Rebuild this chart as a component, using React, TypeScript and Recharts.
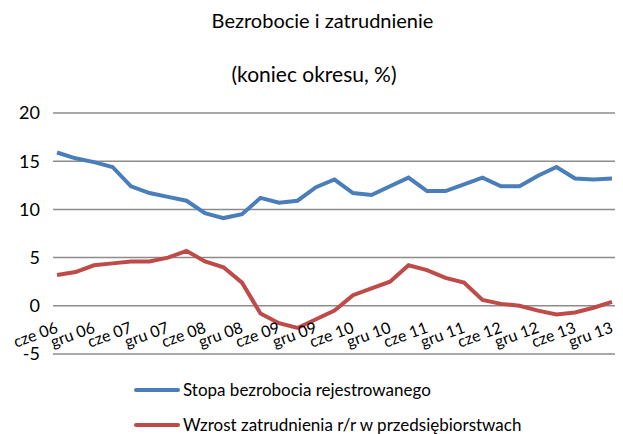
import { LineChart, Line, XAxis, YAxis, CartesianGrid, Legend } from 'recharts';

const quarters = [
  'cze 06', 'wrz 06', 'gru 06', 'mar 07', 'cze 07', 'wrz 07', 'gru 07', 'mar 08',
  'cze 08', 'wrz 08', 'gru 08', 'mar 09', 'cze 09', 'wrz 09', 'gru 09', 'mar 10',
  'cze 10', 'wrz 10', 'gru 10', 'mar 11', 'cze 11', 'wrz 11', 'gru 11', 'mar 12',
  'cze 12', 'wrz 12', 'gru 12', 'mar 13', 'cze 13', 'wrz 13', 'gru 13',
];

const unemployment = [
  15.9, 15.3, 14.9, 14.4, 12.4, 11.7, 11.3, 10.9, 9.6, 9.1, 9.5, 11.2, 10.7, 10.9, 12.3, 13.1,
  11.7, 11.5, 12.4, 13.3, 11.9, 11.9, 12.6, 13.3, 12.4, 12.4, 13.5, 14.4, 13.2, 13.1, 13.2,
];

const employmentGrowth = [
  3.2, 3.5, 4.2, 4.4, 4.6, 4.6, 5.0, 5.7, 4.6, 4.0, 2.4, -0.8, -1.8, -2.3, -1.4, -0.5,
  1.1, 1.8, 2.5, 4.2, 3.7, 2.9, 2.4, 0.6, 0.2, 0.0, -0.5, -0.9, -0.7, -0.2, 0.4,
];

const yTicks = [-5, 0, 5, 10, 15, 20];

const FONT = 'Lato, "Open Sans", sans-serif';

const data = quarters.map((q, i) => ({
  q,
  bezrobocie: unemployment[i],
  zatrudnienie: employmentGrowth[i],
}));

function QuarterTick({ x, y, payload }: any) {
  const ax = x + 2;
  const ay = y - 30;
  return (
    <text
      x={ax}
      y={ay}
      transform={`rotate(-20, ${ax}, ${ay})`}
      textAnchor="end"
      fontSize={16}
      fontFamily={FONT}
      fill="#000"
    >
      {payload.value}
    </text>
  );
}

function LegendRows({ payload }: any) {
  return (
    <div style={{ fontFamily: FONT, fontSize: 17, color: '#000' }}>
      {(payload || []).map((p: any) => (
        <div key={p.value} style={{ display: 'flex', alignItems: 'center', height: 35 }}>
          <span style={{ display: 'inline-block', width: 46, height: 4, borderRadius: 2, background: p.color, marginRight: 3 }} />
          <span>{p.value}</span>
        </div>
      ))}
    </div>
  );
}

export default function App() {
  return (
    <div style={{ position: 'absolute', left: 0, top: 0, width: 623, height: 434, background: '#fff', overflow: 'hidden' }}>
      <div style={{ position: 'absolute', top: 8, left: 0, width: 645, textAlign: 'center', fontFamily: FONT, fontSize: 20 }}>
        Bezrobocie i zatrudnienie
      </div>
      <div style={{ position: 'absolute', top: 61, left: 0, width: 628, textAlign: 'center', fontFamily: FONT, fontSize: 21 }}>
        (koniec okresu, %)
      </div>
      <LineChart width={623} height={434} data={data} margin={{ top: 113, right: 8, bottom: 0, left: 0 }}>
        <CartesianGrid vertical={false} stroke="#8c8c8c" strokeWidth={1.5} />
        <XAxis
          dataKey="q"
          interval={1}
          axisLine={false}
          tickLine={false}
          height={80}
          padding={{ left: 4, right: 3 }}
          tick={<QuarterTick />}
        />
        <YAxis
          domain={[-5, 20]}
          ticks={yTicks}
          width={53}
          axisLine={false}
          tickLine={false}
          tickMargin={7}
          tick={{ fontSize: 18, fontFamily: FONT, fill: '#000' }}
        />
        <Legend
          content={<LegendRows />}
          wrapperStyle={{ position: 'absolute', left: 134, top: 372, width: 440, height: 0, overflow: 'visible' }}
        />
        <Line
          type="linear"
          dataKey="bezrobocie"
          name="Stopa bezrobocia rejestrowanego"
          stroke="#4a7ebb"
          strokeWidth={4}
          dot={false}
          isAnimationActive={false}
        />
        <Line
          type="linear"
          dataKey="zatrudnienie"
          name="Wzrost zatrudnienia r/r w przedsiębiorstwach"
          stroke="#be4b48"
          strokeWidth={4}
          dot={false}
          isAnimationActive={false}
        />
      </LineChart>
    </div>
  );
}
